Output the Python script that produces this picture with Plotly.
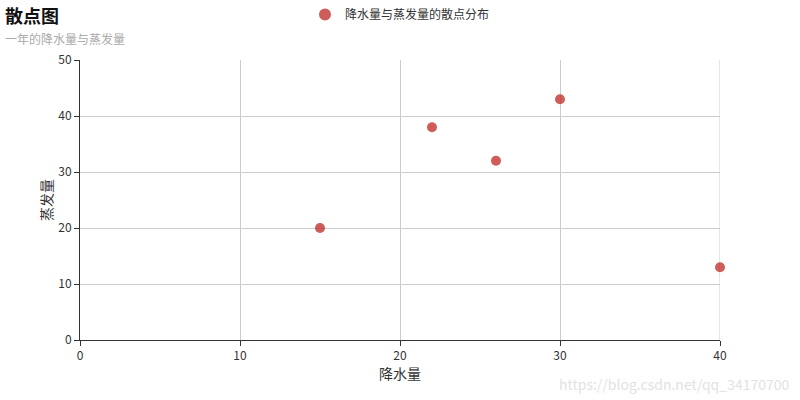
import plotly.graph_objects as go

rainfall = [15, 22, 26, 30, 40]
evaporation = [20, 38, 32, 43, 13]
series_name = "降水量与蒸发量的散点分布"

x_range = [0, 40]
y_range = [0, 50]

FONT = "Noto Sans CJK SC, sans-serif"

fig = go.Figure()
fig.add_trace(
    go.Scatter(
        x=rainfall,
        y=evaporation,
        mode="markers",
        name=series_name,
        marker={"size": 10, "color": "#c23531", "opacity": 0.8, "line": {"width": 0}},
        cliponaxis=False,
        showlegend=True,
    )
)

# right edge gridline (plotly drops the one at the range end)
fig.add_shape(
    type="line", xref="x", yref="paper",
    x0=x_range[1], x1=x_range[1], y0=0, y1=1,
    line={"color": "#ccc", "width": 1}, layer="below",
)

fig.update_layout(
    width=800,
    height=400,
    margin={"l": 80, "r": 80, "t": 60, "b": 60},
    plot_bgcolor="white",
    paper_bgcolor="white",
    font={"family": FONT, "size": 12, "color": "#333"},
    showlegend=True,
    legend={
        "orientation": "h",
        "x": 0.5,
        "xanchor": "center",
        "y": 1.0,
        "yanchor": "top",
        "yref": "container",
        "font": {"size": 12, "color": "#333"},
        "itemsizing": "constant",
    },
    annotations=[
        {
            "text": "<b>散点图</b>",
            "xref": "paper", "yref": "paper",
            "x": 0, "y": 1, "xanchor": "left", "yanchor": "top",
            "xshift": -77, "yshift": 60,
            "showarrow": False,
            "font": {"size": 18, "color": "#111"},
        },
        {
            "text": "一年的降水量与蒸发量",
            "xref": "paper", "yref": "paper",
            "x": 0, "y": 1, "xanchor": "left", "yanchor": "top",
            "xshift": -77, "yshift": 32,
            "showarrow": False,
            "font": {"size": 12, "color": "#aaa"},
        },
        {
            "text": "https://blog.csdn.net/qq_34170700",
            "xref": "paper", "yref": "paper",
            "x": 1, "y": 0, "xanchor": "right", "yanchor": "top",
            "xshift": 72, "yshift": -32,
            "showarrow": False,
            "font": {"size": 14, "color": "#e2e2e2"},
        },
    ],
)

fig.update_xaxes(
    range=x_range,
    dtick=10,
    showgrid=True,
    gridcolor="#ccc",
    zeroline=False,
    showline=True,
    linecolor="#333",
    ticks="outside",
    ticklen=5,
    tickcolor="#333",
    title={"text": "降水量", "font": {"size": 14, "color": "#333"}, "standoff": 4},
)
fig.update_yaxes(
    range=y_range,
    dtick=10,
    showgrid=True,
    gridcolor="#ccc",
    zeroline=False,
    showline=True,
    linecolor="#333",
    ticks="outside",
    ticklen=5,
    tickcolor="#333",
    title={"text": "蒸发量", "font": {"size": 14, "color": "#333"}, "standoff": 2},
)

fig.write_html(
    "out.html",
    config={"displayModeBar": False},
    post_script="document.body.style.margin='0';",
)
